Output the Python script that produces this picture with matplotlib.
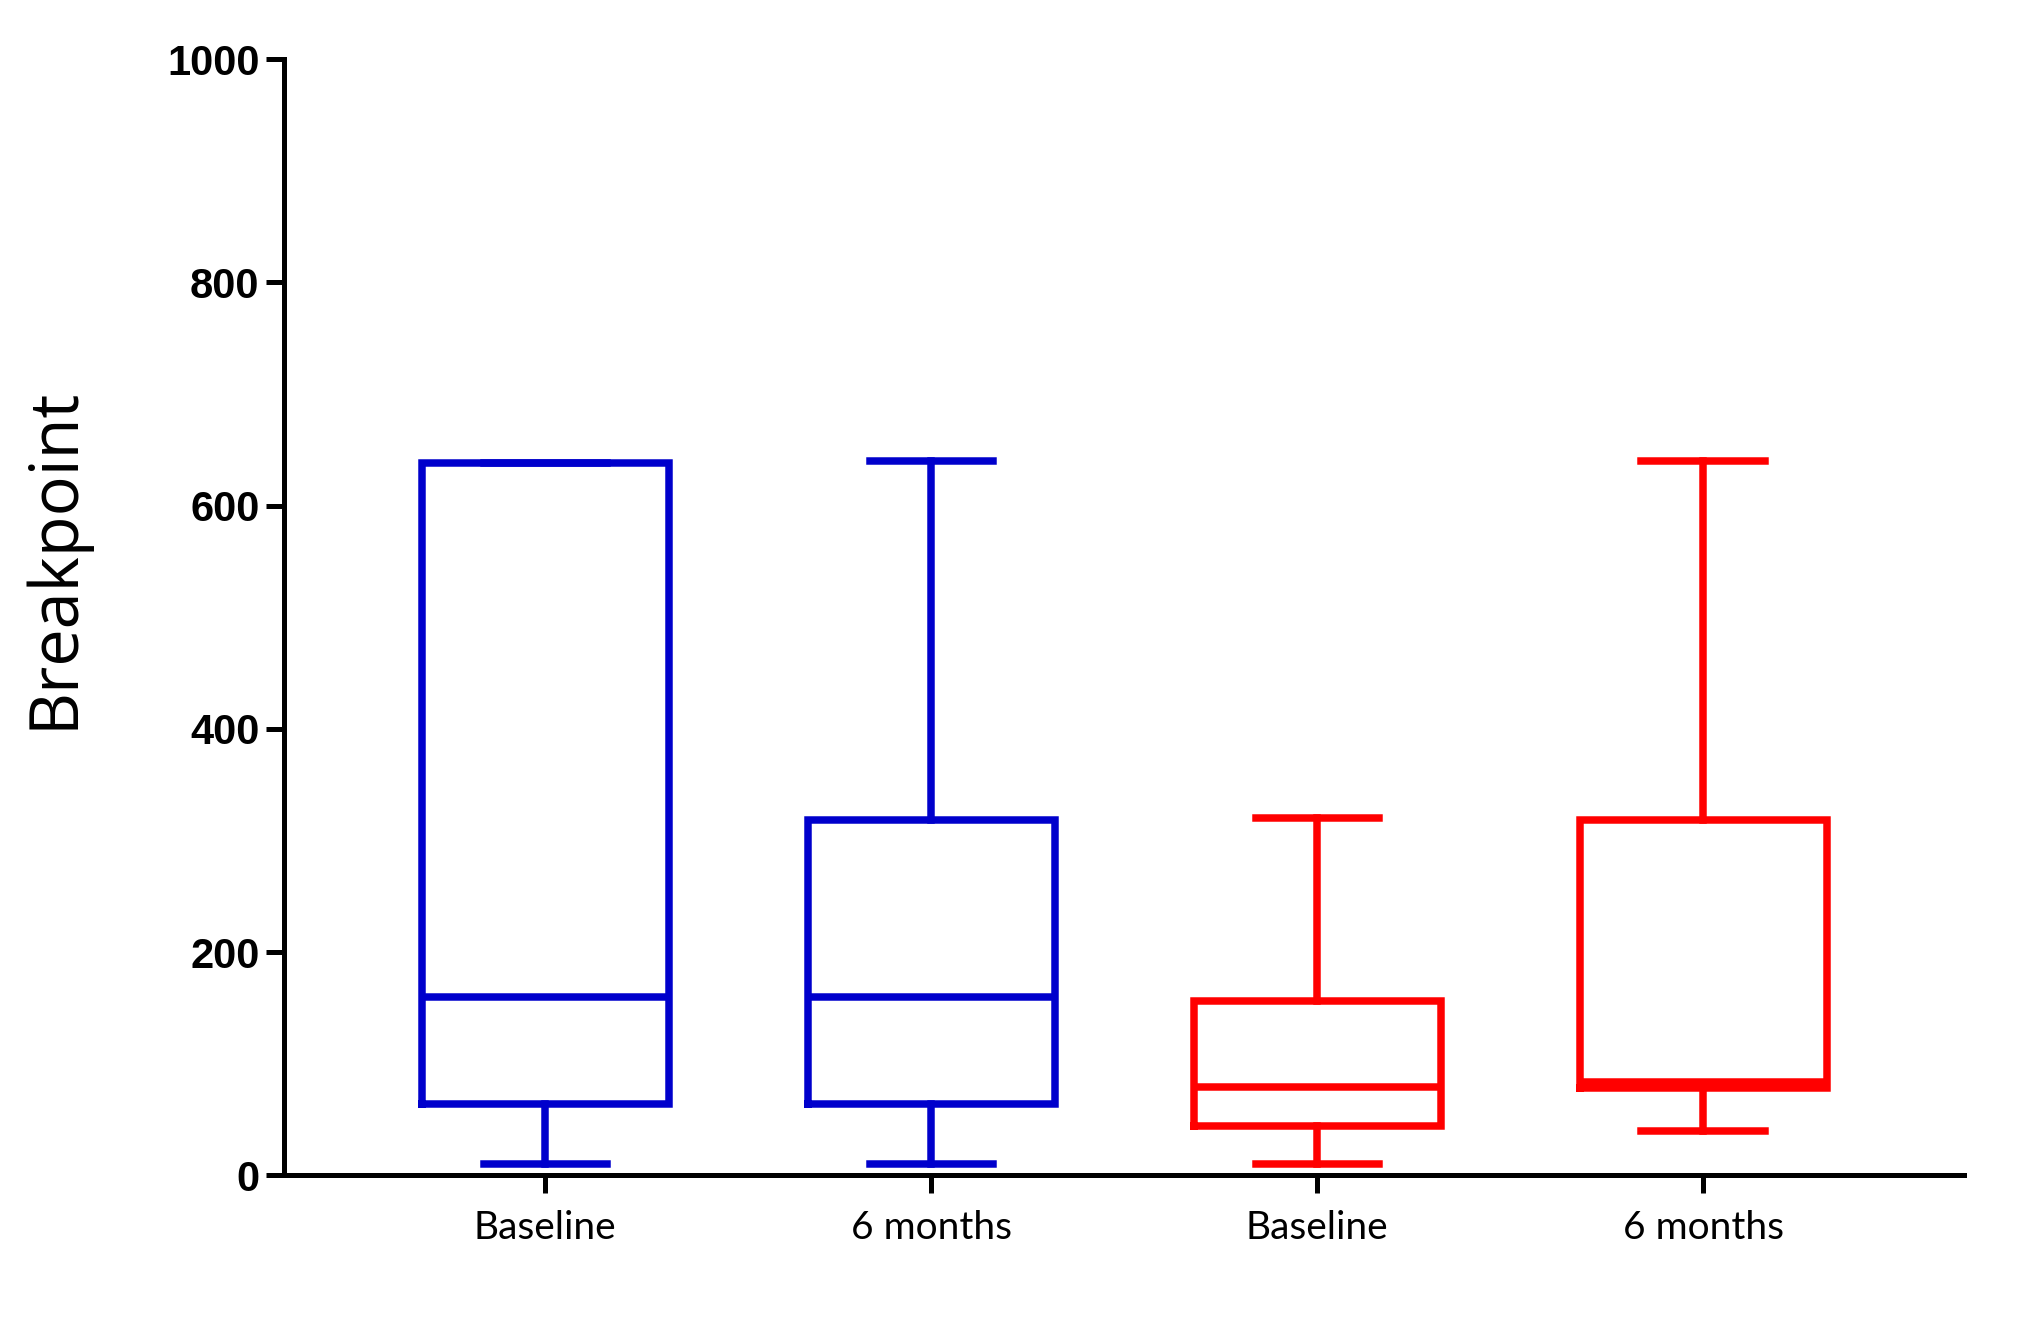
import matplotlib
matplotlib.use("Agg")
import matplotlib.pyplot as plt

# box statistics
groups = ["Baseline", "6 months", "Baseline", "6 months"]
whislo = [10, 10, 10, 40]
q1 = [64, 64, 44, 78]
med = [160, 160, 79, 84]
q3 = [638, 318, 156, 318]
whishi = [638, 640, 320, 640]
colors = ["#0000CC", "#0000CC", "#FF0000", "#FF0000"]

yticks = [0, 200, 400, 600, 800, 1000]

fig = plt.figure(figsize=(20.27, 13.2), dpi=100)
ax = fig.add_axes([0.1403, 0.1095, 0.8287, 0.8458])

stats = []
for i in range(len(groups)):
    stats.append(dict(whislo=whislo[i], q1=q1[i], med=med[i], q3=q3[i],
                      whishi=whishi[i], label=groups[i]))

lw = 5.4
for i, s in enumerate(stats):
    c = colors[i]
    ax.bxp([s], positions=[i + 1], widths=0.64, capwidths=0.32,
           showfliers=False, patch_artist=False,
           boxprops=dict(color=c, linewidth=lw, solid_joinstyle="miter"),
           medianprops=dict(color=c, linewidth=lw, solid_capstyle="butt"),
           whiskerprops=dict(color=c, linewidth=lw),
           capprops=dict(color=c, linewidth=lw))

ax.set_xlim(0.324, 4.676)
ax.set_ylim(0, 1000)
ax.set_xticks([1, 2, 3, 4])
ax.set_xticklabels(groups, fontfamily="Lato", fontsize=28)
ax.set_yticks(yticks)
ax.set_yticklabels([str(v) for v in yticks], fontfamily="Liberation Sans",
                   fontweight="bold", fontsize=30)

for side in ["top", "right"]:
    ax.spines[side].set_visible(False)
for side in ["left", "bottom"]:
    ax.spines[side].set_linewidth(3.6)
    ax.spines[side].set_color("black")

ax.tick_params(axis="y", length=13, width=3.6, pad=5)
ax.tick_params(axis="x", length=13, width=3.6, pad=12)

ax.set_ylabel("Breakpoint", fontfamily="Open Sans", fontsize=48)
ax.yaxis.set_label_coords(-0.1167, 0.553)

fig.savefig("out.png", dpi=100)
